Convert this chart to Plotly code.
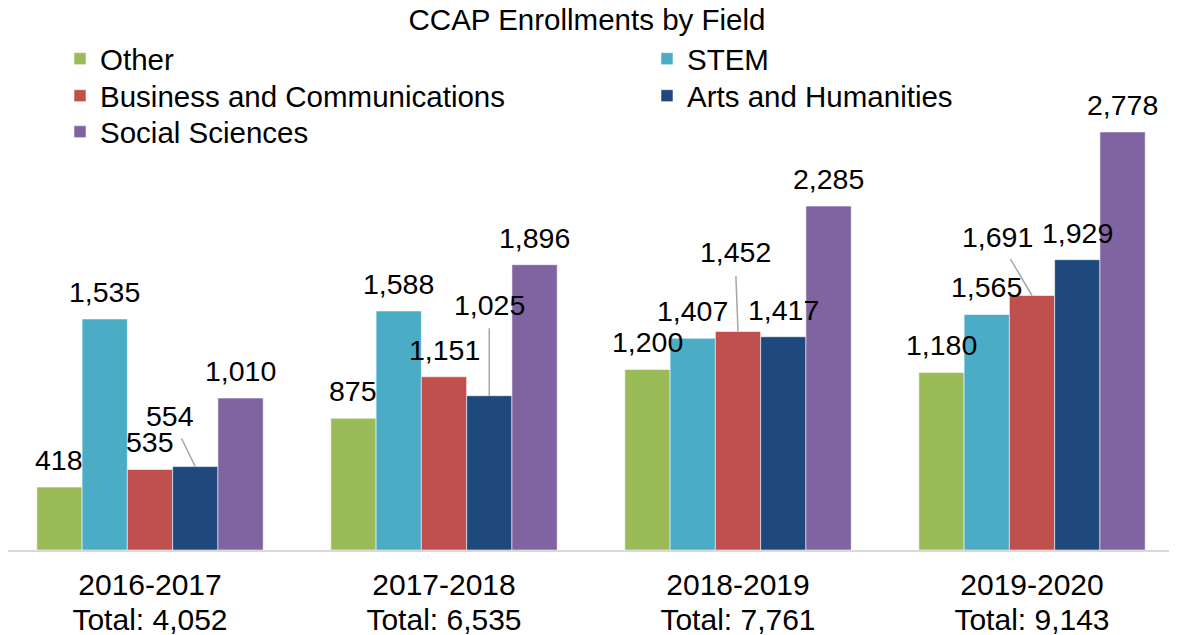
import plotly.graph_objects as go

# ---- data ----
years = ["2016-2017", "2017-2018", "2018-2019", "2019-2020"]
series_names = ["Other", "STEM", "Business and Communications",
                "Arts and Humanities", "Social Sciences"]
other = [418, 875, 1200, 1180]
stem = [1535, 1588, 1407, 1565]
business = [535, 1151, 1452, 1691]
arts = [554, 1025, 1417, 1929]
social = [1010, 1896, 2285, 2778]
colors = ["#9BBB59", "#4BACC6", "#C0504D", "#1F497D", "#8064A2"]

# ---- style / layout ----
OFF = 8                      # page offset of the figure (body margin)
W, H = 1177 - OFF, 635 - OFF
FONT = "Liberation Sans, Arial, sans-serif"
BARGAP = 0.23
REF_X0, CAT_W = 3, 294       # plot-area left edge and category width (page px)
BASE_Y = 550                 # axis baseline (page px)
PX_PER_UNIT = 0.1505
ML, MR, MT = 0, 0, 20
MB = H - (BASE_Y - OFF)
PW, PH = W - ML - MR, H - MT - MB
YMAX = PH / PX_PER_UNIT
XR = [(OFF + ML - REF_X0) / CAT_W - 0.5, (OFF + ML + PW - REF_X0) / CAT_W - 0.5]

all_series = [other, stem, business, arts, social]
totals = [sum(v) for v in zip(*all_series)]
total_text = [f"Total: {t:,}" for t in totals]

# legend entries: (text-left x, row centre y) in page px
legend_pos = [(101, 59), (688, 59), (101, 96), (688, 96), (101, 132)]
# labels with leader lines: (series idx, category idx) -> text offset (px)
leader = {(3, 0): (-25, -51), (3, 1): (0, -91), (2, 2): (-3, -79), (2, 3): (-35, -59)}

fig = go.Figure()
legend_keys = ["legend"] + [f"legend{k}" for k in range(2, 6)]
for i, (name, vals, col) in enumerate(zip(series_names, all_series, colors)):
    fig.add_trace(go.Bar(
        name=name, x=years, y=vals,
        marker=dict(color=col, line=dict(color="rgba(255,255,255,0.55)", width=1)),
        legend=legend_keys[i], showlegend=True,
    ))
# invisible carrier trace so the second (totals) category axis is drawn
fig.add_trace(go.Scatter(
    x=list(range(len(years))), y=[0] * len(years), xaxis="x2", yaxis="y",
    mode="markers", marker=dict(opacity=0), showlegend=False, hoverinfo="skip",
))

bw = (1 - BARGAP) / len(all_series)
annotations = []
for i, vals in enumerate(all_series):
    for j, v in enumerate(vals):
        xpos = j + (i - (len(all_series) - 1) / 2) * bw
        common = dict(x=xpos, y=v, xref="x", yref="y", text=f"{v:,}",
                      font=dict(family=FONT, size=28.5, color="#000000"))
        if (i, j) in leader:
            ax, ay = leader[(i, j)]
            annotations.append(dict(**common, showarrow=True, arrowhead=0,
                                    arrowwidth=1.5, arrowcolor="#A6A6A6",
                                    ax=ax, ay=ay, standoff=0, startstandoff=6))
        else:
            annotations.append(dict(**common, showarrow=False,
                                    yanchor="bottom", yshift=9))

layout_legends = {}
for key, (tx, ty) in zip(legend_keys, legend_pos):
    layout_legends[key] = dict(
        xref="paper", yref="paper",
        x=(tx - OFF - 41 - ML) / PW, y=(H - MB - (ty - OFF)) / PH,
        xanchor="left", yanchor="middle",
        font=dict(family=FONT, size=29.5, color="#000000"),
        bgcolor="rgba(0,0,0,0)", itemwidth=30, visible=True,
    )

fig.update_layout(
    width=W, height=H, showlegend=True,
    margin=dict(l=ML, r=MR, t=MT, b=MB, autoexpand=False),
    paper_bgcolor="white", plot_bgcolor="white",
    barmode="group", bargap=BARGAP, bargroupgap=0,
    title=dict(text="CCAP Enrollments by Field", x=(587 - OFF) / W, xref="container",
               y=1 - (20 - OFF) / H, yref="container", yanchor="middle", xanchor="center",
               font=dict(family=FONT, size=29.5, color="#000000")),
    font=dict(family=FONT, color="#000000"),
    annotations=annotations,
    xaxis=dict(
        type="category", tickvals=years, ticktext=years, tickangle=0,
        range=XR, tickfont=dict(family=FONT, size=30, color="#000000"),
        showline=True, linecolor="#D9D9D9", linewidth=2, ticks="",
        showgrid=False, zeroline=False, automargin=False, ticklabelstandoff=7,
    ),
    xaxis2=dict(
        type="linear", overlaying="x", anchor="y", side="bottom",
        range=XR, tickvals=list(range(len(years))), ticktext=total_text, tickangle=0,
        tickfont=dict(family=FONT, size=30, color="#000000"),
        showline=False, ticks="", showgrid=False, zeroline=False,
        automargin=False, ticklabelstandoff=49,
    ),
    yaxis=dict(visible=False, range=[0, YMAX], showgrid=False, zeroline=False),
    **layout_legends,
)

fig.write_html("out.html")
